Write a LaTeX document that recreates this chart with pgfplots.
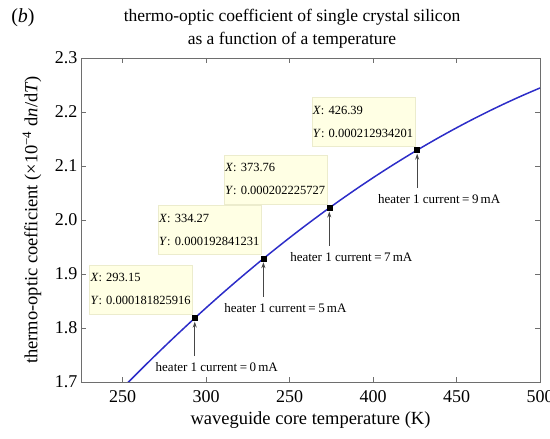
\documentclass[border=0pt]{standalone}
\usepackage{fontspec}
\setmainfont{Liberation Serif}
\usepackage{pgfplots}
\pgfplotsset{compat=1.18}
\usetikzlibrary{arrows.meta}

\definecolor{curveblue}{RGB}{45,45,200}
\definecolor{tipfill}{RGB}{255,255,228}
\definecolor{tipdraw}{RGB}{236,236,205}
\definecolor{axisgray}{RGB}{110,110,110}
\definecolor{arrowgray}{RGB}{70,70,70}

% data tip: box above-left of the point, arrow and current label below it
\newcommand{\datatip}[5]{%
  \node[fill=tipfill, draw=tipdraw, anchor=south east, minimum width=103pt,
        minimum height=49pt, text width=101pt, align=left, inner sep=1pt,
        font=\fontsize{12.5}{23}\selectfont]
    at ([xshift=-2pt,yshift=4pt]axis cs:#1,#2) {\textit{X}: #3\\\textit{Y}: #4};
  \draw[arrowgray, line width=1.1pt, -{Stealth[length=6pt,width=4pt]}]
    ([yshift=-38pt]axis cs:#1,#2) -- ([yshift=-3.5pt]axis cs:#1,#2);
  \node[font=\fontsize{13}{13}\selectfont]
    at ([xshift=22pt,yshift=-49pt]axis cs:#1,#2)
    {heater 1 current\hspace{2.5pt}=\hspace{2.5pt}#5\,mA};
}

\begin{document}
\begin{tikzpicture}
\path[use as bounding box] (-81pt,-57pt) rectangle (469pt,382pt);

\node[font=\fontsize{20}{20}\selectfont] at (-58pt,364pt) {(\textit{b})};
\node[font=\fontsize{17.5}{23}\selectfont, align=center] at (211pt,353pt)
  {thermo-optic coefficient of single crystal silicon\\as a function of a temperature};

\begin{axis}[
  at={(0pt,0pt)}, anchor=south west, scale only axis,
  width=459pt, height=324pt,
  xmin=225, xmax=500, ymin=1.7, ymax=2.3,
  xtick={250,300,350,400,450,500},
  xticklabels={250,300,250,400,450,500},
  ytick={1.7,1.8,1.9,2.0,2.1,2.2,2.3},
  yticklabel style={/pgf/number format/.cd,fixed,fixed zerofill,precision=1},
  /pgf/number format/assume math mode=true,
  tick align=inside,
  tick style={axisgray, line width=0.6pt},
  major tick length=5pt,
  axis line style={axisgray, line width=0.8pt},
  ticklabel style={font=\fontsize{18}{18}\selectfont},
  xticklabel style={yshift=-5pt},
  xlabel={waveguide core temperature (K)},
  ylabel={thermo-optic coefficient (×10\textsuperscript{−4} d\textit{n}/d\textit{T})},
  label style={font=\fontsize{18.5}{18.5}\selectfont},
  xlabel style={at={(axis description cs:0.5,-0.1173)}, anchor=center},
  ylabel style={at={(axis description cs:-0.1068,0.5)}, anchor=center},
]

% dn/dT of crystalline silicon versus temperature
\addplot[curveblue, line width=1.5pt, smooth] coordinates {
  (250,1.68911) (260,1.72028) (270,1.75070) (280,1.78037) (290,1.80930)
  (293.15,1.81826) (300,1.83749) (310,1.86492) (320,1.89161) (330,1.91756)
  (334.27,1.92841) (340,1.94276) (350,1.96721) (360,1.99092) (370,2.01388)
  (373.76,2.02226) (380,2.03609) (390,2.05756) (400,2.07829) (410,2.09826)
  (420,2.11749) (426.39,2.12934) (430,2.13598) (440,2.15372) (450,2.17071)
  (460,2.18696) (470,2.20246) (480,2.21721) (490,2.23122) (500,2.24449)
};

% operating points of heater 1
\addplot[only marks, mark=square*, mark size=2.5pt, black] coordinates {
  (293.15,1.81826) (334.27,1.92841) (373.76,2.02226) (426.39,2.12934)
};

\datatip{293.15}{1.81826}{293.15}{0.000181825916}{0}
\datatip{334.27}{1.92841}{334.27}{0.000192841231}{5}
\datatip{373.76}{2.02226}{373.76}{0.000202225727}{7}
\datatip{426.39}{2.12934}{426.39}{0.000212934201}{9}
\end{axis}
\end{tikzpicture}
\end{document}
